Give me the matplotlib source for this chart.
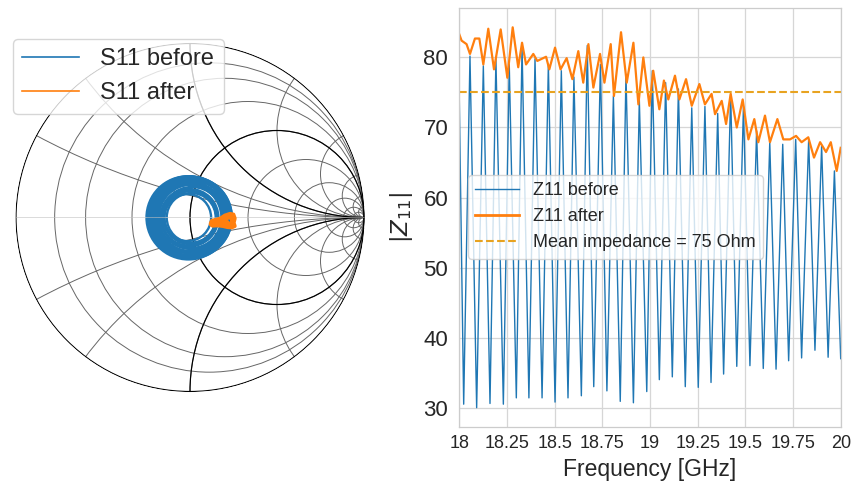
import matplotlib
matplotlib.use("Agg")
import matplotlib.pyplot as plt
from matplotlib.patches import Circle, Arc
from matplotlib.lines import Line2D

plt.rcParams['font.family'] = ['Liberation Sans', 'DejaVu Sans']
plt.rcParams['mathtext.fontset'] = 'dejavusans'

BLUE = '#1f77b4'
ORANGE = '#ff7f0e'
GOLD = '#e8a320'
TEXT = '#262626'
GRID = '#d6d6d6'

# ---------------- data ----------------
z0 = 50.0                # reference impedance of the Smith chart [Ohm]
mean_impedance = 75.0    # [Ohm]

# |Z11| before: start value, alternating dips / peaks, end value
before_start = (18.000, 74.0)
before_end = (20.000, 37.0)
dip_freq = [18.023, 18.091, 18.161, 18.231, 18.299, 18.365, 18.434, 18.502,
            18.570, 18.640, 18.705, 18.774, 18.844, 18.913, 18.983, 19.049,
            19.117, 19.185, 19.253, 19.320, 19.386, 19.455, 19.524, 19.594,
            19.661, 19.727, 19.795, 19.865, 19.934]
dip_z = [30.5, 30.0, 30.6, 30.5, 31.4, 31.4, 31.4, 30.8,
         31.4, 31.7, 33.0, 32.4, 30.9, 30.7, 32.3, 34.0,
         34.4, 33.0, 32.9, 33.6, 34.8, 35.9, 36.0, 35.6,
         35.5, 36.7, 37.1, 38.2, 37.2]
peak_freq = [18.056, 18.126, 18.192, 18.262, 18.329, 18.397, 18.467, 18.535,
             18.601, 18.671, 18.740, 18.808, 18.874, 18.944, 19.012, 19.082,
             19.149, 19.219, 19.288, 19.355, 19.423, 19.490, 19.559, 19.628,
             19.696, 19.764, 19.832, 19.900, 19.967]
peak_z = [80.2, 78.8, 79.8, 79.0, 81.5, 79.8, 79.0, 78.1,
          77.2, 81.7, 79.0, 74.5, 77.6, 74.0, 78.1, 76.4,
          75.5, 72.8, 73.0, 72.0, 74.8, 73.0, 69.5, 67.9,
          67.6, 68.3, 68.3, 67.4, 63.8]

# |Z11| after
after_freq = [18.000, 18.012, 18.038, 18.056, 18.082, 18.105, 18.126, 18.152,
              18.182, 18.217, 18.252, 18.280, 18.309, 18.329, 18.350, 18.388,
              18.409, 18.455, 18.472, 18.502, 18.531, 18.563, 18.593, 18.624,
              18.650, 18.677, 18.703, 18.738, 18.761, 18.794, 18.811, 18.848,
              18.878, 18.913, 18.939, 18.965, 18.997, 19.017, 19.049, 19.073,
              19.096, 19.131, 19.154, 19.189, 19.219, 19.259, 19.288, 19.323,
              19.341, 19.376, 19.399, 19.423, 19.455, 19.486, 19.516, 19.547,
              19.568, 19.603, 19.629, 19.668, 19.699, 19.734, 19.766, 19.795,
              19.830, 19.860, 19.892, 19.923, 19.948, 19.979, 20.000]
after_z = [83.3, 82.4, 81.9, 80.5, 82.7, 82.7, 79.0, 84.1,
           78.3, 84.0, 77.1, 84.3, 78.6, 82.1, 79.0, 80.5,
           79.5, 80.1, 78.3, 81.4, 78.3, 79.9, 76.9, 80.9,
           76.4, 81.9, 75.7, 80.5, 76.4, 81.9, 74.5, 83.6,
           76.4, 82.1, 73.3, 80.0, 73.1, 78.1, 72.6, 76.7,
           74.0, 77.4, 74.0, 76.9, 73.1, 76.2, 73.3, 74.8,
           71.9, 73.8, 70.5, 74.8, 70.0, 74.0, 68.3, 71.2,
           67.9, 71.7, 67.9, 71.2, 68.3, 68.3, 68.8, 67.9,
           68.6, 65.7, 67.9, 66.5, 67.9, 63.8, 67.1]

# S11 after (reflection coefficient, real / imaginary parts)
s11_after_re = [0.118, 0.125, 0.150, 0.175, 0.200, 0.230, 0.250, 0.258, 0.252,
                0.258, 0.240, 0.215, 0.190, 0.160, 0.130, 0.118, 0.140, 0.170,
                0.200, 0.230, 0.245, 0.230, 0.200, 0.170, 0.145, 0.180, 0.215,
                0.235, 0.250, 0.210]
s11_after_im = [-0.035, -0.018, -0.012, -0.005, 0.012, 0.022, 0.018, -0.005, -0.030,
                -0.050, -0.058, -0.056, -0.050, -0.046, -0.048, -0.040, -0.030, -0.025,
                -0.010, 0.005, -0.020, -0.045, -0.038, -0.035, -0.040, -0.020, -0.025,
                -0.048, 0.000, 0.000]

freq_ticks = [18, 18.25, 18.5, 18.75, 19, 19.25, 19.5, 19.75, 20]
freq_tick_labels = ['18', '18.25', '18.5', '18.75', '19', '19.25', '19.5', '19.75', '20']
z_ticks = [30, 40, 50, 60, 70, 80]

# Smith chart grid (normalized resistance / reactance)
r_heavy = [0, 1]
x_heavy = [1, -1]
r_light = [0.125, 0.25, 0.5, 1, 2, 4, 8, 16, 32]
x_light = [0.25, 0.5, 1, 2, 4, 8, 16, 32,
           -0.25, -0.5, -1, -2, -4, -8, -16, -32]

# ---------------- figure ----------------
W, H = 853, 484
fig = plt.figure(figsize=(W / 100, H / 100), dpi=100)


def px_axes(left, top, width, height):
    return fig.add_axes([left / W, 1 - (top + height) / H, width / W, height / H])


# ---- Smith chart ----
side = 2.2 * 174
ax1 = px_axes(190 - side / 2, 217.5 - side / 2, side, side)
ax1.set_xlim(-1.1, 1.1)
ax1.set_ylim(-1.1, 1.1)
ax1.axis('off')

clip = Circle((0, 0), 1.003, transform=ax1.transData, fc='none')


def add_contour(center, radius, color, lw):
    c = Circle(center, radius, ec=color, fc='none', lw=lw)
    ax1.add_patch(c)
    c.set_clip_path(clip)


for r in r_light:
    add_contour((r / (1 + r), 0), 1 / (1 + r), '0.4', 0.7)
for x in x_light:
    add_contour((1, 1 / x), abs(1 / x), '0.4', 0.7)
for r in r_heavy:
    add_contour((r / (1 + r), 0), 1 / (1 + r), 'black', 0.85)
for x in x_heavy:
    add_contour((1, 1 / x), abs(1 / x), 'black', 0.85)
ax1.plot([-1, 1], [0, 0], color='0.75', lw=0.4)

# S11 before: each half turn between consecutive |Z11| extremes
before_f = [before_start[0]]
before_z = [before_start[1]]
for df, dz, pf, pz in zip(dip_freq, dip_z, peak_freq, peak_z):
    before_f += [df, pf]
    before_z += [dz, pz]
before_f.append(before_end[0])
before_z.append(before_end[1])

gammas = [(z - z0) / (z + z0) for z in before_z]
for g1, g2 in zip(gammas[:-1], gammas[1:]):
    t1, t2 = (180, 360) if g1 > g2 else (0, 180)
    ax1.add_patch(Arc(((g1 + g2) / 2, 0), abs(g1 - g2), abs(g1 - g2),
                      theta1=t1, theta2=t2, color=BLUE, lw=1.7))

ax1.plot(s11_after_re, s11_after_im, color=ORANGE, lw=2.6,
         solid_joinstyle='round', solid_capstyle='round')

ax1.legend(handles=[Line2D([], [], color=BLUE, lw=1.2),
                    Line2D([], [], color=ORANGE, lw=1.2)],
           labels=['S11 before', 'S11 after'],
           loc='upper left', bbox_to_anchor=(13 / W, 1 - 39 / H),
           bbox_transform=fig.transFigure, borderaxespad=0,
           fontsize=17, handlelength=2.4, handletextpad=0.9,
           labelcolor=TEXT, edgecolor='0.8', framealpha=0.8)

# ---- |Z11| vs frequency ----
ax2 = px_axes(459.3, 8.3, 381.4, 418.4)
ax2.set_facecolor('white')
ax2.plot(before_f, before_z, color=BLUE, lw=1.0, label='Z11 before')
ax2.plot(after_freq, after_z, color=ORANGE, lw=1.6, label='Z11 after',
         solid_joinstyle='round')
ax2.axhline(mean_impedance, color=GOLD, ls='--', lw=1.5,
            label=f'Mean impedance = {mean_impedance:g} Ohm')
ax2.set_xlim(18, 20)
ax2.set_xticks(freq_ticks, freq_tick_labels)
ax2.set_yticks(z_ticks)
ax2.grid(True, color=GRID, lw=0.9)
ax2.set_axisbelow(True)
for s in ax2.spines.values():
    s.set_color('0.8')
    s.set_linewidth(0.9)
ax2.tick_params(axis='both', length=0, colors=TEXT)
ax2.tick_params(axis='x', labelsize=13, pad=6)
ax2.tick_params(axis='y', labelsize=16, pad=8)
ax2.set_xlabel('Frequency [GHz]', fontsize=16.5, color=TEXT, labelpad=4)
ax2.set_ylabel(r'$|Z_{11}|$', fontsize=16.5, color=TEXT, labelpad=6)
ax2.legend(handles=[Line2D([], [], color=BLUE, lw=1.0),
                    Line2D([], [], color=ORANGE, lw=2.0),
                    Line2D([], [], color=GOLD, lw=1.5, ls='--')],
           labels=['Z11 before', 'Z11 after',
                   f'Mean impedance = {mean_impedance:g} Ohm'],
           loc='upper left', bbox_to_anchor=(468 / W, 1 - 175 / H),
           bbox_transform=fig.transFigure, borderaxespad=0,
           fontsize=13, handlelength=2.4, labelcolor=TEXT,
           edgecolor='0.8', framealpha=0.8)

fig.savefig('out.png', dpi=100)
